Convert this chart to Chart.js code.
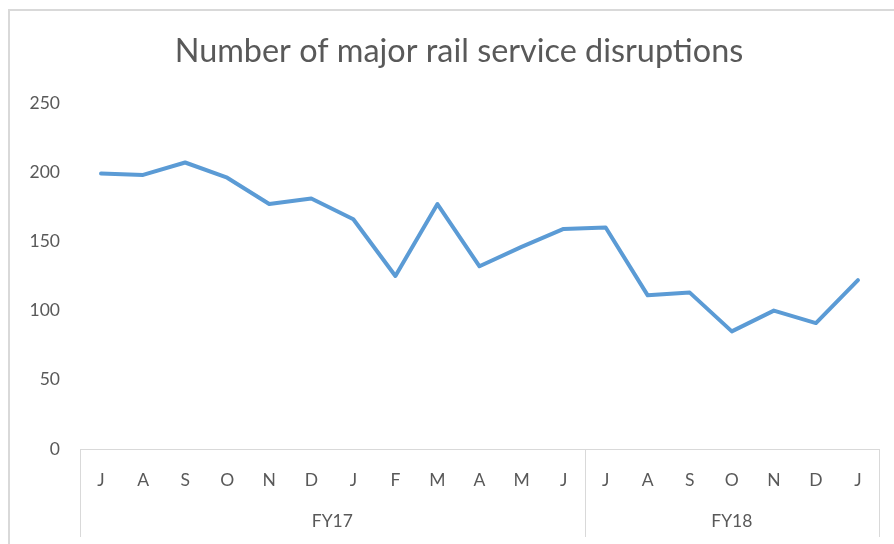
<!DOCTYPE html>
<html>
<head>
<meta charset="utf-8">
<script src="https://cdn.jsdelivr.net/npm/chart.js@4"></script>
<style>
  html, body { margin: 0; padding: 0; background: #ffffff; overflow: hidden; }
  #wrap { position: relative; width: 918px; height: 544px; }
  #frame { position: absolute; left: 8px; top: 9px; width: 1000px; height: 1000px;
           border: 2px solid #d9d9d9; pointer-events: none; box-sizing: border-box; }
  canvas { display: block; }
</style>
</head>
<body>
<div id="wrap">
  <canvas id="c" width="918" height="544"></canvas>
  <div id="frame"></div>
</div>
<script>
const titleText = 'Number of major rail service disruptions';
const months = ['J','A','S','O','N','D','J','F','M','A','M','J','J','A','S','O','N','D','J'];
const disruptions = [199, 198, 207, 196, 177, 181, 166, 125, 177, 132, 146, 159, 160, 111, 113, 85, 100, 91, 122];
const groupLabels = ['FY17', 'FY18'];
const groupSizes = [12, 7];
const yMin = 0, yMax = 250, yStep = 50;

// derived group geometry in category index units
const groupCenters = [];
const groupBounds = [-0.5];
let acc = 0;
groupSizes.forEach(n => { groupCenters.push(acc + (n - 1) / 2); acc += n; groupBounds.push(acc - 0.5); });

const textColor = '#595959';
const lineGray = '#d9d9d9';
const tickFont = { family: 'Lato', size: 17.5 };
const titleCenterX = 459; // centre of the outer chart frame

const separators = {
  id: 'separators',
  afterLayout(chart) {
    // centre the title on the outer frame rather than the padded canvas
    const t = chart.titleBlock;
    if (t) { t.left = 2 * titleCenterX - t.right; t.width = t.right - t.left; }
  },
  afterDraw(chart) {
    const xs = chart.scales.x, g = chart.scales.xGroup;
    const ctx = chart.ctx;
    ctx.save();
    ctx.strokeStyle = lineGray;
    ctx.lineWidth = 1;
    groupBounds.forEach(b => {
      const px = Math.round(g.getPixelForValue(b)) + 0.5;
      ctx.beginPath();
      ctx.moveTo(px, xs.top);
      ctx.lineTo(px, g.bottom + 5);
      ctx.stroke();
    });
    ctx.restore();
  }
};

new Chart(document.getElementById('c'), {
  type: 'line',
  data: {
    labels: months,
    datasets: [{
      data: disruptions,
      borderColor: '#5b9bd5',
      borderWidth: 4,
      pointRadius: 0,
      tension: 0,
      borderCapStyle: 'round',
      borderJoinStyle: 'round',
      fill: false
    }]
  },
  options: {
    responsive: false,
    animation: false,
    layout: { padding: { left: 20, right: 39, top: 0, bottom: 12 } },
    plugins: {
      legend: { display: false },
      tooltip: { enabled: false },
      title: {
        display: true,
        text: titleText,
        color: textColor,
        font: { family: 'Lato', size: 32.4, weight: '400' },
        padding: { top: 32.5, bottom: 31.6 }
      }
    },
    scales: {
      x: {
        type: 'category',
        position: 'bottom',
        weight: 0,
        offset: true,
        grid: { display: false, drawTicks: false },
        border: { display: true, color: lineGray, width: 1 },
        ticks: {
          color: textColor,
          font: tickFont,
          padding: 20.5,
          autoSkip: false,
          maxRotation: 0
        }
      },
      xGroup: {
        type: 'linear',
        position: 'bottom',
        weight: 1,
        min: groupBounds[0],
        max: groupBounds[groupBounds.length - 1],
        grid: { display: false, drawTicks: false },
        border: { display: false },
        afterBuildTicks(axis) { axis.ticks = groupCenters.map(v => ({ value: v })); },
        ticks: {
          color: textColor,
          font: tickFont,
          padding: 0,
          autoSkip: false,
          maxRotation: 0,
          callback(v) { const i = groupCenters.indexOf(v); return i >= 0 ? groupLabels[i] : ''; }
        }
      },
      y: {
        min: yMin,
        max: yMax,
        grid: { display: false, drawTicks: false },
        border: { display: false },
        afterFit(axis) { axis.width = 60; },
        ticks: {
          stepSize: yStep,
          color: textColor,
          font: tickFont,
          padding: 20
        }
      }
    }
  },
  plugins: [separators]
});
</script>
</body>
</html>
